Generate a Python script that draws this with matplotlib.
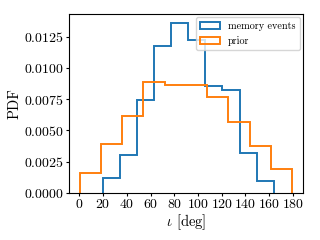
#!/usr/bin/env python3

import matplotlib
matplotlib.use("Agg")
import matplotlib.pyplot as plt
import numpy as np

plt.rcParams.update({
    "font.family": "serif",
    "font.serif": ["cmr10"],
    "mathtext.fontset": "cm",
    "axes.unicode_minus": False,
    "axes.formatter.use_mathtext": True,
    "font.size": 10,
    "axes.labelsize": 10.5,
    "xtick.labelsize": 10,
    "ytick.labelsize": 10,
    "legend.fontsize": 7.3,
    "xtick.major.size": 2,
    "ytick.major.size": 2,
    "xtick.major.pad": 2,
    "ytick.major.pad": 1.5,
})

# histogram densities
memory_lo, memory_hi = 19.7, 163.8
memory_pdf = [0.00115, 0.00302, 0.00743, 0.01178, 0.01362,
              0.01226, 0.00855, 0.00823, 0.00318, 0.00096]

prior_lo, prior_hi = 0.3, 179.3
prior_pdf = [0.00155, 0.00390, 0.00614, 0.00884, 0.00866,
             0.00860, 0.00769, 0.00569, 0.00374, 0.00192]

xticks = np.arange(0, 181, 20)
yticks = [0.0, 0.0025, 0.005, 0.0075, 0.01, 0.0125]

fig = plt.figure(figsize=(3.2, 2.4), dpi=100)
ax = fig.add_axes([0.216, 0.197, 0.73, 0.743])

mem_edges = np.linspace(memory_lo, memory_hi, len(memory_pdf) + 1)
pri_edges = np.linspace(prior_lo, prior_hi, len(prior_pdf) + 1)

ax.hist(0.5 * (mem_edges[:-1] + mem_edges[1:]), bins=mem_edges,
        weights=memory_pdf, histtype='step', lw=1.4,
        color='tab:blue', label='memory events')
ax.hist(0.5 * (pri_edges[:-1] + pri_edges[1:]), bins=pri_edges,
        weights=prior_pdf, histtype='step', lw=1.4,
        color='tab:orange', label='prior')

ax.set_xticks(xticks)
ax.set_yticks(yticks)
ax.set_xlabel(r"$\iota$ [deg]", labelpad=1)
ax.set_ylabel("PDF", labelpad=2)
ax.legend(loc='upper right', borderaxespad=0.3)

plt.savefig("out.png", dpi=100)
